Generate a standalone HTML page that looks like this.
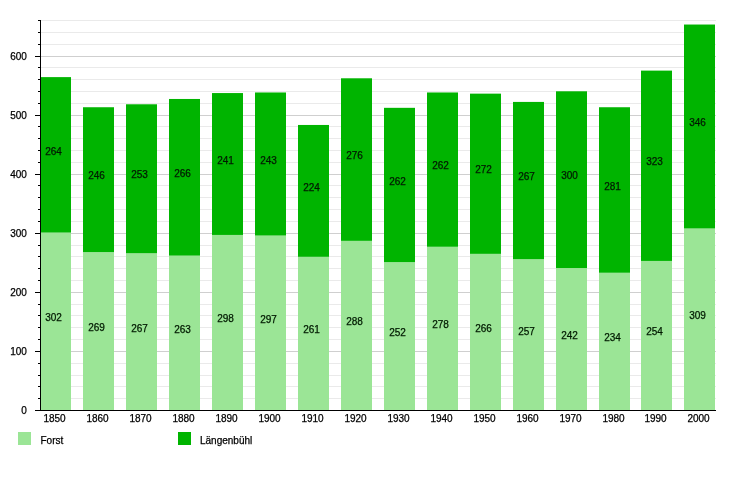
<!DOCTYPE html><html><head><meta charset="utf-8"><style>html,body{margin:0;padding:0;background:#fff;width:750px;height:500px;overflow:hidden}svg{display:block;will-change:transform;font-family:"Liberation Sans",sans-serif}</style></head><body>
<svg width="750" height="500" viewBox="0 0 750 500">
<rect x="41" y="398" width="675" height="1" fill="#eaeaea"/>
<rect x="41" y="386" width="675" height="1" fill="#eaeaea"/>
<rect x="41" y="375" width="675" height="1" fill="#eaeaea"/>
<rect x="41" y="363" width="675" height="1" fill="#eaeaea"/>
<rect x="41" y="351" width="675" height="1" fill="#cfcfcf"/>
<rect x="41" y="339" width="675" height="1" fill="#eaeaea"/>
<rect x="41" y="327" width="675" height="1" fill="#eaeaea"/>
<rect x="41" y="315" width="675" height="1" fill="#eaeaea"/>
<rect x="41" y="304" width="675" height="1" fill="#eaeaea"/>
<rect x="41" y="292" width="675" height="1" fill="#cfcfcf"/>
<rect x="41" y="280" width="675" height="1" fill="#eaeaea"/>
<rect x="41" y="268" width="675" height="1" fill="#eaeaea"/>
<rect x="41" y="256" width="675" height="1" fill="#eaeaea"/>
<rect x="41" y="245" width="675" height="1" fill="#eaeaea"/>
<rect x="41" y="233" width="675" height="1" fill="#cfcfcf"/>
<rect x="41" y="221" width="675" height="1" fill="#eaeaea"/>
<rect x="41" y="209" width="675" height="1" fill="#eaeaea"/>
<rect x="41" y="197" width="675" height="1" fill="#eaeaea"/>
<rect x="41" y="185" width="675" height="1" fill="#eaeaea"/>
<rect x="41" y="174" width="675" height="1" fill="#cfcfcf"/>
<rect x="41" y="162" width="675" height="1" fill="#eaeaea"/>
<rect x="41" y="150" width="675" height="1" fill="#eaeaea"/>
<rect x="41" y="138" width="675" height="1" fill="#eaeaea"/>
<rect x="41" y="126" width="675" height="1" fill="#eaeaea"/>
<rect x="41" y="115" width="675" height="1" fill="#cfcfcf"/>
<rect x="41" y="103" width="675" height="1" fill="#eaeaea"/>
<rect x="41" y="91" width="675" height="1" fill="#eaeaea"/>
<rect x="41" y="79" width="675" height="1" fill="#eaeaea"/>
<rect x="41" y="67" width="675" height="1" fill="#eaeaea"/>
<rect x="41" y="56" width="675" height="1" fill="#cfcfcf"/>
<rect x="41" y="44" width="675" height="1" fill="#eaeaea"/>
<rect x="41" y="32" width="675" height="1" fill="#eaeaea"/>
<rect x="41" y="20" width="675" height="1" fill="#eaeaea"/>
<rect x="40" y="232.58" width="31" height="177.42" fill="#9be596"/>
<rect x="40" y="77.11" width="31" height="155.47" fill="#00b400"/>
<rect x="83" y="252.07" width="31" height="157.93" fill="#9be596"/>
<rect x="83" y="107.24" width="31" height="144.84" fill="#00b400"/>
<rect x="126" y="253.26" width="31" height="156.74" fill="#9be596"/>
<rect x="126" y="104.28" width="31" height="148.97" fill="#00b400"/>
<rect x="169" y="255.62" width="31" height="154.38" fill="#9be596"/>
<rect x="169" y="98.97" width="31" height="156.65" fill="#00b400"/>
<rect x="212" y="234.94" width="31" height="175.06" fill="#9be596"/>
<rect x="212" y="93.06" width="31" height="141.88" fill="#00b400"/>
<rect x="255" y="235.53" width="31" height="174.47" fill="#9be596"/>
<rect x="255" y="92.47" width="31" height="143.06" fill="#00b400"/>
<rect x="298" y="256.80" width="31" height="153.20" fill="#9be596"/>
<rect x="298" y="124.96" width="31" height="131.84" fill="#00b400"/>
<rect x="341" y="240.85" width="31" height="169.15" fill="#9be596"/>
<rect x="341" y="78.29" width="31" height="162.56" fill="#00b400"/>
<rect x="384" y="262.12" width="31" height="147.88" fill="#9be596"/>
<rect x="384" y="107.83" width="31" height="154.29" fill="#00b400"/>
<rect x="427" y="246.76" width="31" height="163.24" fill="#9be596"/>
<rect x="427" y="92.47" width="31" height="154.29" fill="#00b400"/>
<rect x="470" y="253.85" width="31" height="156.15" fill="#9be596"/>
<rect x="470" y="93.65" width="31" height="160.20" fill="#00b400"/>
<rect x="513" y="259.16" width="31" height="150.84" fill="#9be596"/>
<rect x="513" y="101.92" width="31" height="157.24" fill="#00b400"/>
<rect x="556" y="268.03" width="31" height="141.97" fill="#9be596"/>
<rect x="556" y="91.29" width="31" height="176.74" fill="#00b400"/>
<rect x="599" y="272.75" width="31" height="137.25" fill="#9be596"/>
<rect x="599" y="107.24" width="31" height="165.51" fill="#00b400"/>
<rect x="641" y="260.94" width="31" height="149.06" fill="#9be596"/>
<rect x="641" y="70.61" width="31" height="190.33" fill="#00b400"/>
<rect x="684" y="228.44" width="31" height="181.56" fill="#9be596"/>
<rect x="684" y="24.53" width="31" height="203.92" fill="#00b400"/>
<rect x="40" y="20" width="1" height="391" fill="#000"/>
<rect x="35" y="410" width="681" height="1" fill="#000"/>
<rect x="38" y="398" width="2" height="1" fill="#000"/>
<rect x="38" y="386" width="2" height="1" fill="#000"/>
<rect x="38" y="375" width="2" height="1" fill="#000"/>
<rect x="38" y="363" width="2" height="1" fill="#000"/>
<rect x="35" y="351" width="5" height="1" fill="#000"/>
<rect x="38" y="339" width="2" height="1" fill="#000"/>
<rect x="38" y="327" width="2" height="1" fill="#000"/>
<rect x="38" y="315" width="2" height="1" fill="#000"/>
<rect x="38" y="304" width="2" height="1" fill="#000"/>
<rect x="35" y="292" width="5" height="1" fill="#000"/>
<rect x="38" y="280" width="2" height="1" fill="#000"/>
<rect x="38" y="268" width="2" height="1" fill="#000"/>
<rect x="38" y="256" width="2" height="1" fill="#000"/>
<rect x="38" y="245" width="2" height="1" fill="#000"/>
<rect x="35" y="233" width="5" height="1" fill="#000"/>
<rect x="38" y="221" width="2" height="1" fill="#000"/>
<rect x="38" y="209" width="2" height="1" fill="#000"/>
<rect x="38" y="197" width="2" height="1" fill="#000"/>
<rect x="38" y="185" width="2" height="1" fill="#000"/>
<rect x="35" y="174" width="5" height="1" fill="#000"/>
<rect x="38" y="162" width="2" height="1" fill="#000"/>
<rect x="38" y="150" width="2" height="1" fill="#000"/>
<rect x="38" y="138" width="2" height="1" fill="#000"/>
<rect x="38" y="126" width="2" height="1" fill="#000"/>
<rect x="35" y="115" width="5" height="1" fill="#000"/>
<rect x="38" y="103" width="2" height="1" fill="#000"/>
<rect x="38" y="91" width="2" height="1" fill="#000"/>
<rect x="38" y="79" width="2" height="1" fill="#000"/>
<rect x="38" y="67" width="2" height="1" fill="#000"/>
<rect x="35" y="56" width="5" height="1" fill="#000"/>
<rect x="38" y="44" width="2" height="1" fill="#000"/>
<rect x="38" y="32" width="2" height="1" fill="#000"/>
<rect x="38" y="20" width="2" height="1" fill="#000"/>
<g font-size="10.0" fill="#000000" stroke="#000000" stroke-width="0.25" text-anchor="end">
<text x="26.9" y="413.80">0</text>
<text x="26.9" y="354.80">100</text>
<text x="26.9" y="295.80">200</text>
<text x="26.9" y="236.80">300</text>
<text x="26.9" y="177.80">400</text>
<text x="26.9" y="118.80">500</text>
<text x="26.9" y="59.80">600</text>
</g>
<g font-size="10.0" fill="#000000" stroke="#000000" stroke-width="0.25" text-anchor="middle">
<text x="54.50" y="422.0">1850</text>
<text x="97.50" y="422.0">1860</text>
<text x="140.50" y="422.0">1870</text>
<text x="183.50" y="422.0">1880</text>
<text x="226.50" y="422.0">1890</text>
<text x="269.50" y="422.0">1900</text>
<text x="312.50" y="422.0">1910</text>
<text x="355.50" y="422.0">1920</text>
<text x="398.50" y="422.0">1930</text>
<text x="441.50" y="422.0">1940</text>
<text x="484.50" y="422.0">1950</text>
<text x="527.50" y="422.0">1960</text>
<text x="570.50" y="422.0">1970</text>
<text x="613.50" y="422.0">1980</text>
<text x="655.50" y="422.0">1990</text>
<text x="698.50" y="422.0">2000</text>
</g>
<g font-size="10.0" fill="#001a00" stroke="#001a00" stroke-width="0.25" text-anchor="middle">
<text x="53.50" y="321.24">302</text>
<text x="53.50" y="154.54">264</text>
<text x="96.50" y="330.99">269</text>
<text x="96.50" y="179.36">246</text>
<text x="139.50" y="331.58">267</text>
<text x="139.50" y="178.47">253</text>
<text x="182.50" y="332.76">263</text>
<text x="182.50" y="176.99">266</text>
<text x="225.50" y="322.42">298</text>
<text x="225.50" y="163.70">241</text>
<text x="268.50" y="322.72">297</text>
<text x="268.50" y="163.70">243</text>
<text x="311.50" y="333.35">261</text>
<text x="311.50" y="190.58">224</text>
<text x="354.50" y="325.37">288</text>
<text x="354.50" y="159.27">276</text>
<text x="397.50" y="336.01">252</text>
<text x="397.50" y="184.67">262</text>
<text x="440.50" y="328.33">278</text>
<text x="440.50" y="169.31">262</text>
<text x="483.50" y="331.87">266</text>
<text x="483.50" y="173.45">272</text>
<text x="526.50" y="334.53">257</text>
<text x="526.50" y="180.24">267</text>
<text x="569.50" y="338.96">242</text>
<text x="569.50" y="179.36">300</text>
<text x="612.50" y="341.33">234</text>
<text x="612.50" y="189.70">281</text>
<text x="654.50" y="335.42">254</text>
<text x="654.50" y="165.47">323</text>
<text x="697.50" y="319.17">309</text>
<text x="697.50" y="126.18">346</text>
</g>
<rect x="18" y="432" width="13" height="13" fill="#9be596"/>
<rect x="178" y="432" width="13" height="13" fill="#00b400"/>
<g font-size="10.0" fill="#000000" stroke="#000000" stroke-width="0.25">
<text x="40.5" y="444">Forst</text>
<text x="200" y="444">L&#228;ngenb&#252;hl</text>
</g>
</svg></body></html>
